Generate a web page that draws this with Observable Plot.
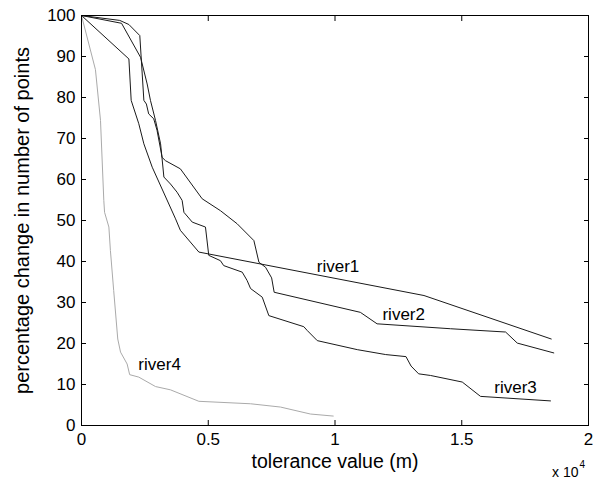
<!DOCTYPE html>
<html><head><meta charset="utf-8">
<script src="https://cdn.jsdelivr.net/npm/d3@7"></script>
<script src="https://cdn.jsdelivr.net/npm/@observablehq/plot@0.6"></script>
<style>
body{margin:0;background:#fff}
#chart svg{font-family:"Liberation Sans",Arial,sans-serif}
</style>
</head><body><div id="chart"></div>
<script>
// x values are tolerance in units of 10^4 m, y values in percent
const seriesNames = ["river1", "river2", "river3", "river4"];
const river1X = [0, 0.187, 0.196, 0.226, 0.246, 0.279, 0.371, 0.39, 0.463, 1.351, 1.853];
const river1Y = [100, 89.4, 79.3, 73.6, 68.7, 63, 50.4, 47.6, 42.3, 31.7, 21.1];
const river2X = [0, 0.151, 0.187, 0.23, 0.246, 0.256, 0.265, 0.285, 0.298, 0.318, 0.331, 0.39, 0.476, 0.548, 0.614, 0.68, 0.7, 0.726, 0.75, 0.76, 1.1, 1.166, 1.456, 1.673, 1.719, 1.863];
const river2Y = [100, 98.8, 97.8, 95.1, 79.3, 78.4, 76, 74.8, 72, 65.4, 64.6, 62.6, 55.3, 52.4, 49.2, 45.1, 39.8, 38.6, 36, 32.5, 27.6, 24.8, 23.6, 22.8, 20.1, 17.7];
const river3X = [0, 0.158, 0.233, 0.259, 0.272, 0.292, 0.312, 0.318, 0.325, 0.351, 0.377, 0.397, 0.404, 0.437, 0.489, 0.502, 0.548, 0.561, 0.634, 0.653, 0.667, 0.713, 0.739, 0.877, 0.89, 0.93, 1.088, 1.2, 1.28, 1.3, 1.33, 1.377, 1.502, 1.574, 1.85];
const river3Y = [100, 98.1, 89.8, 83.3, 79.3, 74.4, 68.7, 65, 60.6, 58.9, 56.9, 54.9, 52, 49.6, 48.4, 41.5, 40.2, 39, 37.4, 35.4, 33.4, 31.3, 26.8, 24.1, 23.2, 20.7, 18.5, 17.3, 16.8, 14.5, 12.6, 12.2, 10.6, 7.1, 6.0];
const river4X = [0, 0.055, 0.075, 0.088, 0.091, 0.108, 0.114, 0.127, 0.143, 0.154, 0.18, 0.19, 0.226, 0.292, 0.351, 0.463, 0.667, 0.785, 0.903, 0.993];
const river4Y = [100, 86.8, 74.4, 54.9, 52, 48.4, 42.7, 32.9, 21.1, 17.9, 15, 12.4, 11.8, 9.5, 8.7, 5.9, 5.3, 4.5, 2.8, 2.3];

// annotation labels (data coordinates)
const labelText = ["river1", "river2", "river3", "river4"];
const labelX = [1.012, 1.271, 1.712, 0.308];
const labelY = [38.7, 27.1, 9.15, 14.8];

const xTicks = [0, 0.5, 1, 1.5, 2];
const xTickLabels = ["0", "0.5", "1", "1.5", "2"];
const yTicks = [0, 10, 20, 30, 40, 50, 60, 70, 80, 90, 100];
const xTitle = "tolerance value (m)";
const yTitle = "percentage change in number of points";
const xExponentBase = "x 10";
const xExponent = "4";

const xs = [river1X, river2X, river3X, river4X];
const ys = [river1Y, river2Y, river3Y, river4Y];
const rows = [];
seriesNames.forEach((name, k) => xs[k].forEach((x, i) => rows.push({series: name, x, y: ys[k][i]})));
const labels = labelText.map((t, i) => ({text: t, x: labelX[i], y: labelY[i]}));

const chart = Plot.plot({
  width: 594,
  height: 483,
  marginLeft: 81,
  marginRight: 6,
  marginTop: 15,
  marginBottom: 58,
  style: {fontFamily: "Liberation Sans, Arial, sans-serif", fontSize: "17px", color: "#000", background: "#fff", overflow: "visible"},
  x: {domain: [0, 2]},
  y: {domain: [0, 100]},
  color: {domain: seriesNames, range: ["#1a1a1a", "#1a1a1a", "#1a1a1a", "#aaaaaa"]},
  marks: [
    Plot.line(rows, {x: "x", y: "y", z: "series", stroke: "series", strokeWidth: 1}),
    Plot.axisX(xTicks, {anchor: "bottom", tickSize: -5, tickPadding: 12, tickFormat: (d) => xTickLabels[xTicks.indexOf(d)], label: null, fontSize: 17}),
    Plot.axisX(xTicks, {anchor: "top", tickSize: -5, tickFormat: () => "", label: null}),
    Plot.axisY(yTicks, {anchor: "left", tickSize: -5, tickPadding: 11, label: null, fontSize: 17}),
    Plot.axisY(yTicks, {anchor: "right", tickSize: -5, tickFormat: () => "", label: null}),
    Plot.frame({stroke: "#000", strokeWidth: 1}),
    Plot.text(labels, {x: "x", y: "y", text: "text", fontSize: 17, fill: "#000"}),
    Plot.text([xTitle], {frameAnchor: "bottom", text: (d) => d, dy: 42, fontSize: 19.5, fill: "#000"}),
    Plot.text([yTitle], {frameAnchor: "left", text: (d) => d, textAnchor: "middle", rotate: -90, dx: -59, fontSize: 20, fill: "#000"}),
    Plot.text([xExponentBase], {frameAnchor: "bottom-right", text: (d) => d, textAnchor: "end", dx: -10, dy: 51, fontSize: 14, fill: "#000"}),
    Plot.text([xExponent], {frameAnchor: "bottom-right", text: (d) => d, textAnchor: "start", dx: -9, dy: 42, fontSize: 10, fill: "#000"})
  ]
});
document.getElementById("chart").appendChild(chart);
</script>
</body></html>
